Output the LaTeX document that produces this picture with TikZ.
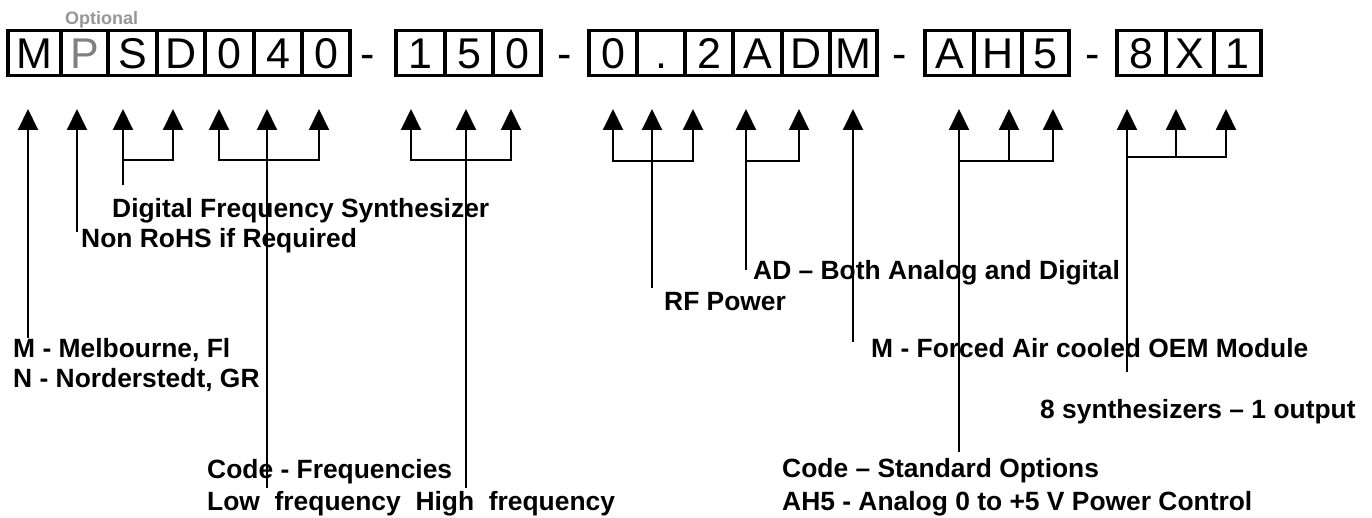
\documentclass[tikz,border=0pt]{standalone}
\usepackage{fontspec}
\setmainfont{Liberation Sans}
\usetikzlibrary{arrows.meta}
\definecolor{optgray}{RGB}{128,128,128}
\definecolor{optlabel}{RGB}{150,150,150}
\newcommand\mycell[4]{\node[cell, minimum width={#3-#2}] (#1) at ({(#2+#3)/2},53) {#4};}
\begin{document}
\begin{tikzpicture}[x=1pt,y=-1pt,
  cell/.style={draw, line width=3.5pt, minimum height=45pt, inner sep=0pt,
    font=\fontsize{43}{50}\selectfont, text height=30.8pt, text depth=0pt},
  sepchar/.style={inner sep=0pt, font=\fontsize{43}{50}\selectfont, text height=30.8pt, text depth=0pt},
  lbl/.style={inner sep=0pt, anchor=base west, font=\fontsize{26.4}{31}\selectfont\bfseries},
  optlbl/.style={inner sep=0pt, anchor=base west, text=optlabel, font=\fontsize{18}{22}\selectfont\bfseries},
  conn/.style={line width=2pt},
  up/.style={conn, -{Triangle[length=21pt,width=20pt]}},
  both/.style={conn, {Triangle[length=21pt,width=20pt]}-{Triangle[length=21pt,width=20pt]}},
]
\useasboundingbox (0,0) rectangle (1372,518);

% ---- code boxes
\mycell{c1}{8}{61}{M}
\mycell{c2}{61}{108}{\textcolor{optgray}{P}}
\mycell{c3}{108}{157}{S}
\mycell{c4}{157}{205}{D}
\mycell{c5}{205}{254}{0}
\mycell{c6}{254}{302}{4}
\mycell{c7}{302}{350}{0}
\node[sepchar] (d1) at (368,53) {-};
\mycell{c8}{396}{445}{1}
\mycell{c9}{445}{493}{5}
\mycell{c10}{493}{541}{0}
\node[sepchar] (d2) at (565,53) {-};
\mycell{c11}{589}{637}{0}
\mycell{c12}{637}{685}{.}
\mycell{c13}{685}{733}{2}
\mycell{c14}{733}{782}{A}
\mycell{c15}{782}{830}{D}
\mycell{c16}{830}{877}{M}
\node[sepchar] (d3) at (900,53) {-};
\mycell{c17}{925}{974}{A}
\mycell{c18}{974}{1022}{H}
\mycell{c19}{1022}{1069}{5}
\node[sepchar] (d4) at (1093,53) {-};
\mycell{c20}{1117}{1166}{8}
\mycell{c21}{1166}{1214}{X}
\mycell{c22}{1214}{1261}{1}

\node[optlbl] (opt) at (65,25) {Optional};

% ---- arrow tips
\foreach \n/\x in {1/28,2/77,3/123,4/173,5/219,6/267,7/319,8/411,9/466,10/511,
  11/613,12/652,13/693,14/746,15/799,16/853,17/959,18/1009,19/1053,20/1127,21/1176,22/1226}
  {\coordinate (t\n) at (\x,109);}

% ---- labels
\node[lbl] (locA) at (13,357) {M - Melbourne, Fl};
\node[lbl] (locB) at (13,387) {N - Norderstedt, GR};
\node[lbl] (rohs) at (81,248) {Non RoHS if Required};
\node[lbl] (dfs) at (112,218) {Digital Frequency Synthesizer};
\node[lbl] (frqA) at (207,478) {Code - Frequencies};
\node[lbl] (frqB) at (207,510) {Low\ \ frequency\ \ High\ \ frequency};
\node[lbl] (rf) at (664,311) {RF Power};
\node[lbl] (ad) at (753,280) {AD – Both Analog and Digital};
\node[lbl] (oem) at (871,357) {M - Forced Air cooled OEM Module};
\node[lbl] (syn) at (1040,418) {8 synthesizers – 1 output};
\node[lbl] (optA) at (782,477) {Code – Standard Options};
\node[lbl] (optB) at (782,510) {AH5 - Analog 0 to +5 V Power Control};

% ---- line ends
\coordinate (e1) at (28,338);
\coordinate (e2) at (77,232);
\coordinate (e3) at (123,185);
\coordinate (j3) at (123,160);
\coordinate (q7) at (319,160);
\coordinate (e6) at (267,488);
\coordinate (q10) at (511,160);
\coordinate (e9) at (466,488);
\coordinate (q13) at (693,161);
\coordinate (e12) at (652,288);
\coordinate (e14) at (746,270);
\coordinate (j14) at (746,161);
\coordinate (e16) at (853,342);
\coordinate (e17) at (959,452);
\coordinate (j17) at (959,161);
\coordinate (q18) at (1009,161);
\coordinate (e20) at (1127,372);
\coordinate (j20) at (1127,157);
\coordinate (q21) at (1176,157);

% ---- connectors
\draw[up] (e1) -- (t1);
\draw[up] (e2) -- (t2);
\draw[up] (e3) -- (t3);
\draw[up] (j3) -| (t4);
\draw[both] (t5) |- (q7) -- (t7);
\draw[up] (e6) -- (t6);
\draw[both] (t8) |- (q10) -- (t10);
\draw[up] (e9) -- (t9);
\draw[both] (t11) |- (q13) -- (t13);
\draw[up] (e12) -- (t12);
\draw[up] (e14) -- (t14);
\draw[up] (j14) -| (t15);
\draw[up] (e16) -- (t16);
\draw[up] (e17) -- (t17);
\draw[up] (j17) -| (t19);
\draw[up] (q18) -- (t18);
\draw[up] (e20) -- (t20);
\draw[up] (j20) -| (t22);
\draw[up] (q21) -- (t21);
\end{tikzpicture}
\end{document}
